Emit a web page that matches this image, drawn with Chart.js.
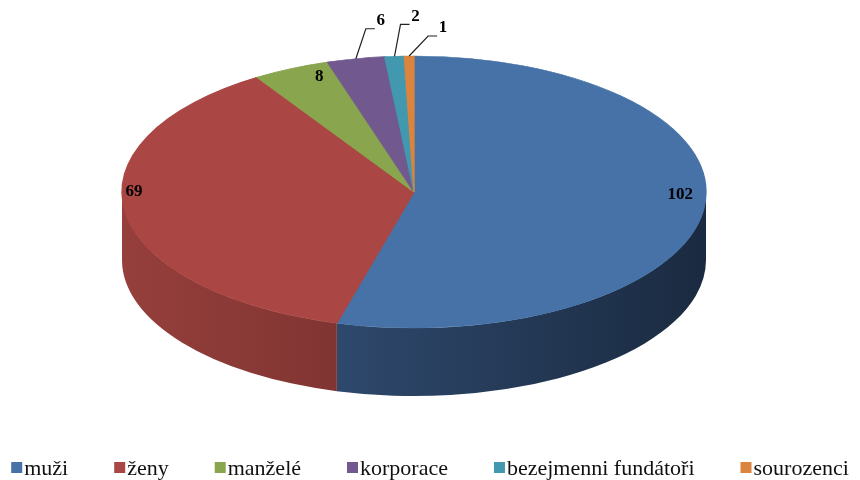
<!DOCTYPE html>
<html>
<head>
<meta charset="utf-8">
<script src="https://cdn.jsdelivr.net/npm/chart.js@4.4.1/dist/chart.umd.min.js"></script>
<style>
  html, body { margin: 0; padding: 0; background: #fff; }
  #wrap { width: 860px; height: 480px; position: relative; }
</style>
</head>
<body>
<div id="wrap"><canvas id="chart"></canvas></div>
<script>
const categories = ['muži', 'ženy', 'manželé', 'korporace', 'bezejmenni fundátoři', 'sourozenci'];
const counts = [102, 69, 8, 6, 2, 1];

const topColors = ['#4672a7', '#aa4643', '#89a54e', '#71588f', '#4198af', '#db843d'];
// side wall shading, left -> right
const sideColors = [
  ['#3a5a86', '#1a2a40'],
  ['#963f3c', '#5a2321'],
  ['#6f8840', '#3c4a22'],
  ['#5b4773', '#30253d'],
  ['#347b8d', '#1b414b'],
  ['#b06a31', '#5e381a']
];

// ellipse of the top face and side depth
const PIE = { cx: 414, cy: 192, rx: 292, ry: 136, depth: 68 };
// inside labels: radius fraction and upward lift (fake perspective)
const insideFrac = [0.92, 0.97, 0.77];
const insideLift = [14, 20, 20];
const leaders = [null, null, null, [10, -30], [6, -32], [19, -20]];
const labelFont = 'bold 17px "Liberation Serif", "Times New Roman", serif';
const legendFont = '22px "Liberation Serif", "Times New Roman", serif';

function arcGeom(chart) {
  const arcs = chart.getDatasetMeta(0).data;
  const p = arcs[0].getProps(['x', 'y', 'outerRadius'], true);
  return { arcs, x: p.x, y: p.y, r: p.outerRadius };
}

const pie3d = {
  id: 'pie3d',
  beforeDatasetsDraw(chart) {
    const ctx = chart.ctx;
    const g = arcGeom(chart);
    g.arcs.forEach((arc, i) => {
      const a1 = Math.max(arc.startAngle, 0);
      const a2 = Math.min(arc.endAngle, Math.PI);
      if (a2 <= a1) return;
      const grad = ctx.createLinearGradient(PIE.cx - PIE.rx, 0, PIE.cx + PIE.rx, 0);
      grad.addColorStop(0, sideColors[i][0]);
      grad.addColorStop(1, sideColors[i][1]);
      ctx.beginPath();
      ctx.ellipse(PIE.cx, PIE.cy, PIE.rx, PIE.ry, 0, a1, a2);
      ctx.ellipse(PIE.cx, PIE.cy + PIE.depth, PIE.rx, PIE.ry, 0, a2, a1, true);
      ctx.closePath();
      ctx.fillStyle = grad;
      ctx.fill();
    });
    // squash the round pie into the top face ellipse
    ctx.save();
    ctx.translate(PIE.cx, PIE.cy);
    ctx.scale(PIE.rx / g.r, PIE.ry / g.r);
    ctx.translate(-g.x, -g.y);
  },
  afterDatasetsDraw(chart) {
    const ctx = chart.ctx;
    ctx.restore();
    const g = arcGeom(chart);
    ctx.save();
    ctx.font = labelFont;
    ctx.fillStyle = '#000';
    ctx.textAlign = 'center';
    ctx.textBaseline = 'middle';
    g.arcs.forEach((arc, i) => {
      const mid = (arc.startAngle + arc.endAngle) / 2;
      const c = Math.cos(mid), s = Math.sin(mid);
      const text = String(counts[i]);
      if (leaders[i]) {
        const x0 = PIE.cx + PIE.rx * c, y0 = PIE.cy + PIE.ry * s;
        const x1 = x0 + leaders[i][0], y1 = y0 + leaders[i][1];
        const x2 = x1 + 9;
        ctx.beginPath();
        ctx.moveTo(x0, y0);
        ctx.lineTo(x1, y1);
        ctx.lineTo(x2, y1);
        ctx.strokeStyle = '#222';
        ctx.lineWidth = 1.2;
        ctx.stroke();
        ctx.fillText(text, x2 + 6, y1 - 8);
      } else {
        const f = insideFrac[i];
        ctx.fillText(text, PIE.cx + PIE.rx * f * c, PIE.cy - insideLift[i] + PIE.ry * f * s);
      }
    });
    ctx.restore();
  },
  afterDraw(chart) {
    const ctx = chart.ctx;
    ctx.save();
    ctx.font = legendFont;
    ctx.textAlign = 'left';
    ctx.textBaseline = 'alphabetic';
    const box = 11, gap = 2, spacing = 46;
    const widths = categories.map(t => box + gap + ctx.measureText(t).width);
    const total = widths.reduce((a, b) => a + b, 0) + spacing * (categories.length - 1);
    let x = (chart.width - total) / 2;
    categories.forEach((t, i) => {
      ctx.fillStyle = topColors[i];
      ctx.fillRect(x, 462, box, box);
      ctx.fillStyle = '#111';
      ctx.fillText(t, x + box + gap, 475);
      x += widths[i] + spacing;
    });
    ctx.restore();
  }
};

new Chart(document.getElementById('chart'), {
  type: 'pie',
  data: {
    labels: categories,
    datasets: [{
      data: counts,
      backgroundColor: topColors,
      borderColor: topColors,
      borderWidth: 1,
      clip: false
    }]
  },
  options: {
    responsive: true,
    maintainAspectRatio: false,
    animation: false,
    events: [],
    layout: { padding: { bottom: 40 } },
    plugins: {
      legend: { display: false },
      tooltip: { enabled: false }
    }
  },
  plugins: [pie3d]
});
</script>
</body>
</html>
